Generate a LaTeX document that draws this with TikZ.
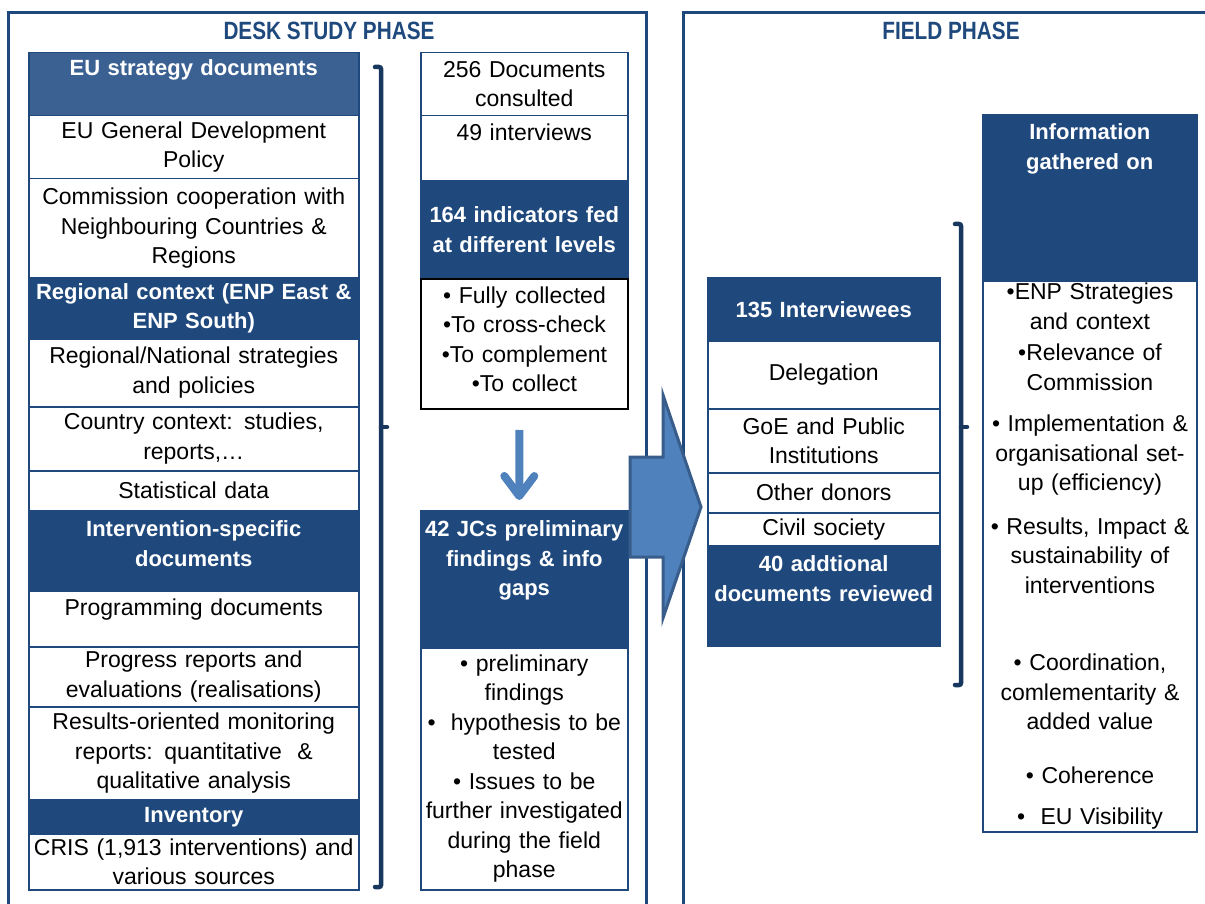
\documentclass[tikz,border=0pt]{standalone}
\usepackage{fontspec}
\setmainfont{Liberation Sans}
\newfontfamily\phasefont[FakeStretch=0.83]{Liberation Sans}
\usetikzlibrary{arrows.meta,calc,positioning}
\definecolor{navy}{HTML}{1F497D}
\definecolor{steel}{HTML}{3A6192}
\definecolor{arrowblue}{HTML}{4F81BD}
\definecolor{arrowedge}{HTML}{385D8A}
\definecolor{bracketblue}{HTML}{17375E}

\begin{document}
\begin{tikzpicture}[x=1pt,y=-1pt,
    cell/.style={draw=navy,line width=1.5pt,fill=white,inner sep=0pt,anchor=north west,
      align=center,font=\fontsize{23}{29.5}\selectfont},
    head/.style={cell,fill=navy,text=white,font=\bfseries\fontsize{22}{29.5}\selectfont},
    leftcol/.style={text width=330pt},
    midcol/.style={text width=207pt},
    fieldcol/.style={text width=232pt},
    infocol/.style={text width=214pt},
    frame/.style={draw=navy,line width=3pt},
    phase/.style={text=navy,font=\phasefont\bfseries\fontsize{25}{30}\selectfont},
    bracket/.style={draw=bracketblue,line width=4.5pt,line cap=round,rounded corners=2pt},
    downarrow/.style={draw=arrowblue,line width=8pt,-{Straight Barb[length=20pt,width=30pt,round]}},
    bigarrow/.style={fill=arrowblue,draw=arrowedge,line width=3pt}]
       \useasboundingbox (0,0) rectangle (1205,904);
       % phase frames
       \draw[frame] (8,13) rectangle (646,960);
       \draw[frame] (683,13) rectangle (1260,960);
       \node[phase] (deskphase) at (329,31) {DESK STUDY PHASE};
       \node[phase] (fieldphase) at (951,31) {FIELD PHASE};
       % desk study: documents
       \node[head,leftcol,fill=steel,minimum height=63pt,text depth=33pt] (eustrat) at (28,52) {EU strategy documents};
       \node[cell,leftcol,minimum height=63pt] (eupolicy) at (28,115) {EU General Development\\Policy};
       \node[cell,leftcol,minimum height=99pt] (commission) at (28,178) {Commission cooperation with\\Neighbouring Countries \&\\Regions};
       \node[head,leftcol,minimum height=61pt] (regional) at (28,277) {Regional context (ENP East \&\\ENP South)};
       \node[cell,leftcol,minimum height=68pt] (natstrat) at (28,338) {Regional/National strategies\\and policies};
       \node[cell,leftcol,minimum height=64pt] (country) at (28,406) {Country context: studies,\\reports,\ldots};
       \node[cell,leftcol,minimum height=40pt] (stats) at (28,470) {Statistical data};
       \node[head,leftcol,minimum height=80pt,text depth=44pt] (intervention) at (28,510) {Intervention-specific\\documents};
       \node[cell,leftcol,minimum height=56pt,text depth=24pt] (programming) at (28,590) {Programming documents};
       \node[cell,leftcol,minimum height=60pt] (progress) at (28,646) {Progress reports and\\evaluations (realisations)};
       \node[cell,leftcol,minimum height=93pt] (monitoring) at (28,706) {Results-oriented monitoring\\reports: quantitative \ \&\\qualitative analysis};
       \node[head,leftcol,minimum height=34pt] (inventory) at (28,799) {Inventory};
       \node[cell,leftcol,minimum height=56pt] (cris) at (28,833) {CRIS (1,913 interventions) and\\various sources};
       \draw[bracket] (375,67) -| (381,887) -- (375,887);
       \draw[bracket] (381,427) -- (387,427);
       % desk study: results
       \node[cell,midcol,minimum height=63pt] (consulted) at (420,52) {256 Documents\\consulted};
       \node[cell,midcol,minimum height=65pt,text depth=33pt] (interviews) at (420,115) {49 interviews};
       \node[head,midcol,minimum height=98pt] (indhead) at (420,180) {164 indicators fed\\at different levels};
       \node[cell,midcol,draw=black,line width=2pt,minimum height=130pt,text depth=98pt] (indlist) at (420,278) {• Fully collected\\•To cross-check\\•To complement\\•To collect};
       \node[head,midcol,minimum height=137pt,text depth=101pt] (jchead) at (420,510) {42 JCs preliminary\\findings \& info\\gaps};
       \node[cell,midcol,minimum height=242pt] (jclist) at (420,647) {• preliminary\\findings\\• \ hypothesis to be\\tested\\• Issues to be\\further investigated\\during the field\\phase};
       \draw[downarrow,shorten <=20pt,shorten >=10pt] ([xshift=-5pt]indlist.south) -- ([xshift=-5pt]jchead.north);
       % field phase
       \node[head,fieldcol,minimum height=63pt] (interviewees) at (707,277) {135 Interviewees};
       \node[cell,fieldcol,minimum height=68pt] (delegation) at (707,340) {Delegation};
       \node[cell,fieldcol,minimum height=64pt] (goe) at (707,408) {GoE and Public\\Institutions};
       \node[cell,fieldcol,minimum height=40pt] (donors) at (707,472) {Other donors};
       \node[cell,fieldcol,minimum height=33pt] (civil) at (707,512) {Civil society};
       \node[head,fieldcol,minimum height=100pt,text depth=64pt] (additional) at (707,545) {40 addtional\\documents reviewed};
       \draw[bracket] (955,224) -| (961,685) -- (955,685);
       \draw[bracket] (961,427) -- (967,427);
       \node[head,infocol,minimum height=166pt,text depth=132pt] (infohead) at (982,114) {Information\\gathered on};
       \node[cell,infocol,line width=2pt,minimum height=551pt] (infolist) at (982,280) {•ENP Strategies\\and context\\[2pt]•Relevance of\\Commission\\[12pt]• Implementation \&\\organisational set-\\up (efficiency)\\[14pt]• Results, Impact \&\\sustainability of\\interventions\\[48pt]• Coordination,\\comlementarity \&\\added value\\[24pt]• Coherence\\[12pt]• \ EU Visibility};
       % transition arrow
       \draw[bigarrow] (630,457) -- (663,457) -- (663,395) -- (701,507) -- (663,618) -- (663,557) -- (630,557) -- cycle;
     \end{tikzpicture}
\end{document}
